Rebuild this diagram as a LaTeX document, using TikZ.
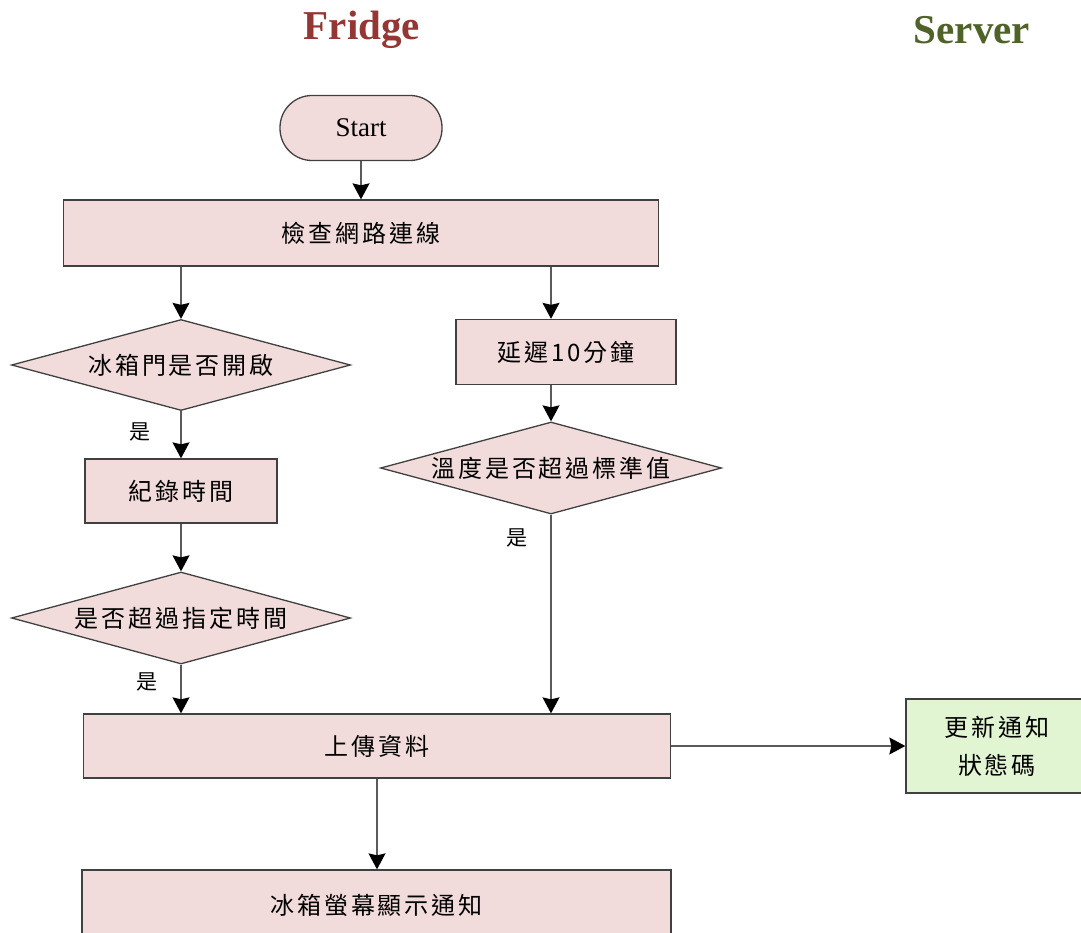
\documentclass[tikz,border=0pt]{standalone}
\usepackage{fontspec}
\setmainfont{Liberation Serif}
\newfontfamily\cjk{Noto Sans CJK TC}[LetterSpace=12]
\newfontfamily\cjkplain{Noto Sans CJK TC}
\usetikzlibrary{shapes.geometric,arrows.meta}
\definecolor{boxpink}{RGB}{242,220,219}
\definecolor{boxgreen}{RGB}{226,245,211}
\definecolor{edge}{RGB}{64,64,64}
\definecolor{wire}{RGB}{90,90,90}
\definecolor{fridgered}{RGB}{148,54,52}
\definecolor{servergreen}{RGB}{79,98,40}
\tikzset{
  base/.style={draw=edge, line width=1.3pt, fill=boxpink, font=\cjk\fontsize{24}{28}\selectfont, inner sep=0pt},
  procbox/.style={base, rectangle},
  decision/.style={base, diamond, aspect=3.7},
  terminal/.style={base, rectangle, rounded corners=32pt, font=\fontsize{27}{30}\selectfont},
  title/.style={font=\bfseries\fontsize{41}{45}\selectfont},
  yeslabel/.style={font=\cjkplain\fontsize{21}{24}\selectfont},
  arr/.style={draw=wire, line width=1.4pt, -{Stealth[length=16pt,width=17pt,inset=2pt,color=black]}}
}
\begin{document}
\begin{tikzpicture}[x=1pt,y=-1pt]
\useasboundingbox (0,0) rectangle (1081,933);
\clip (0,0) rectangle (1081,933);
% lane headings
\node[title, text=fridgered] (tf) at (362,30) {Fridge};
\node[title, text=servergreen] (ts) at (972,30) {Server};
% fridge-side flow
\node[terminal, minimum width=162pt, minimum height=65pt] (start) at (361,128) {Start};
\node[procbox, minimum width=595pt, minimum height=66pt] (chk) at (361,233) {檢查網路連線};
\node[decision, minimum width=339pt, minimum height=91pt] (d1) at (181,365) {冰箱門是否開啟};
\node[procbox, minimum width=192pt, minimum height=64pt] (rec) at (181,491) {紀錄時間};
\node[decision, minimum width=339pt, minimum height=92pt] (d2) at (181,618) {是否超過指定時間};
\node[procbox, minimum width=220pt, minimum height=65pt] (delay) at (566,352) {延遲10分鐘};
\node[decision, minimum width=341pt, minimum height=92pt] (d3) at (551,468) {溫度是否超過標準值};
\node[procbox, minimum width=587pt, minimum height=64pt] (up) at (377,746) {上傳資料};
\node[procbox, minimum width=589pt, minimum height=70pt] (bot) at (376.5,905) {冰箱螢幕顯示通知};
% server side
\node[procbox, fill=boxgreen, minimum width=182pt, minimum height=94pt, align=center,
      font=\cjk\fontsize{24}{38}\selectfont] (srv) at (997,746) {更新通知\\狀態碼};
% branch labels
\node[yeslabel] (y1) at (140,432) {是};
\node[yeslabel] (y2) at (147,682) {是};
\node[yeslabel] (y3) at (517,538) {是};
% connectors
\draw[arr] (start) -- (chk);
\draw[arr] (chk.south -| d1.north) -- (d1.north);
\draw[arr] (d1) -- (rec);
\draw[arr] (rec) -- (d2);
\draw[arr] (d2.south) -- (up.north -| d2.south);
\draw[arr] (chk.south -| d3.north) -- (delay.north -| d3.north);
\draw[arr] (delay.south -| d3.north) -- (d3.north);
\draw[arr] (d3.south) -- (up.north -| d3.south);
\draw[arr] (up.east) -- (srv.west);
\draw[arr] (up.south) -- (up.south |- bot.north);
\end{tikzpicture}
\end{document}
